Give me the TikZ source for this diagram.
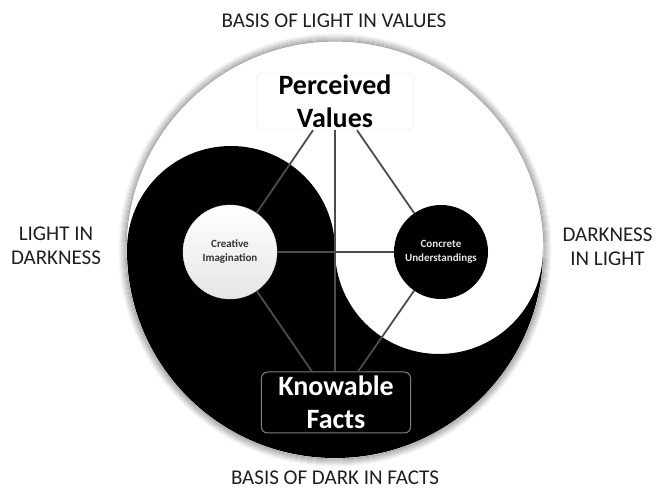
\documentclass[tikz,border=0pt]{standalone}
\usepackage{fontspec}
\setmainfont{Carlito}
\usepackage{tikz}

\begin{document}
\begin{tikzpicture}[
    x=1pt, y=1pt,
    every node/.style={align=center, inner sep=0pt},
    side/.style={font=\fontsize{21}{24}\selectfont, text=black!88}
]
\tikzset{
    valuebox/.style={draw=black!10, fill=white, rounded corners=6pt, minimum width=157pt, minimum height=57pt, font=\fontsize{28}{33}\selectfont\bfseries},
    factbox/.style={draw=black!50, line width=1pt, fill=black, text=white, rounded corners=6pt, minimum width=149pt, minimum height=61pt, font=\fontsize{28}{33}\selectfont\bfseries},
    lightdot/.style={circle, draw=black!15, top color=white, bottom color=black!10, text=black!80, minimum size=94pt, font=\fontsize{11}{14}\selectfont\bfseries},
    darkdot/.style={circle, fill=black, text=black!10, minimum size=94pt, font=\fontsize{11}{14}\selectfont\bfseries},
    link/.style={draw=black!70, line width=1.8pt}
}
\useasboundingbox (-335,-239) rectangle (321,250);
\foreach \i [evaluate=\i as \g using 36-4*\i] in {1,...,8}
    \draw[black!\g, line width=1.2pt] (0,0) circle[radius=208+\i];
\fill[white] (0,0) circle[radius=208];
\fill[black] (-208,0) arc[start angle=180, end angle=360, radius=208]
    arc[start angle=0, end angle=-180, radius=104]
    arc[start angle=0, end angle=180, radius=104] -- cycle;

\node[valuebox] (pv) at (0,148.5) {Perceived\\Values};
\node[factbox] (kf) at (1,-152.5) {Knowable\\Facts};
\node[lightdot] (ci) at (-105,-2) {Creative\\Imagination};
\node[darkdot] (cu) at (106,-2) {Concrete\\Understandings};

\node[side, anchor=base] (lighttitle) at (-1,222) {BASIS OF LIGHT IN VALUES};
\node[side, anchor=base] (darktitle) at (0,-235) {BASIS OF DARK IN FACTS};
\node[side] (lightside) at (-279,4) {LIGHT IN\\DARKNESS};
\node[side] (darkside) at (272.5,3.5) {DARKNESS\\IN LIGHT};

\draw[link] ([xshift=-22pt]pv.south) -- (ci);
\draw[link] (pv.south) -- (pv.south |- kf.north);
\draw[link] ([xshift=22pt]pv.south) -- (cu);
\draw[link] (ci) -- (cu);
\draw[link] (ci) -- ([xshift=-24pt]kf.north);
\draw[link] (cu) -- ([xshift=22pt]kf.north);
\end{tikzpicture}
\end{document}
